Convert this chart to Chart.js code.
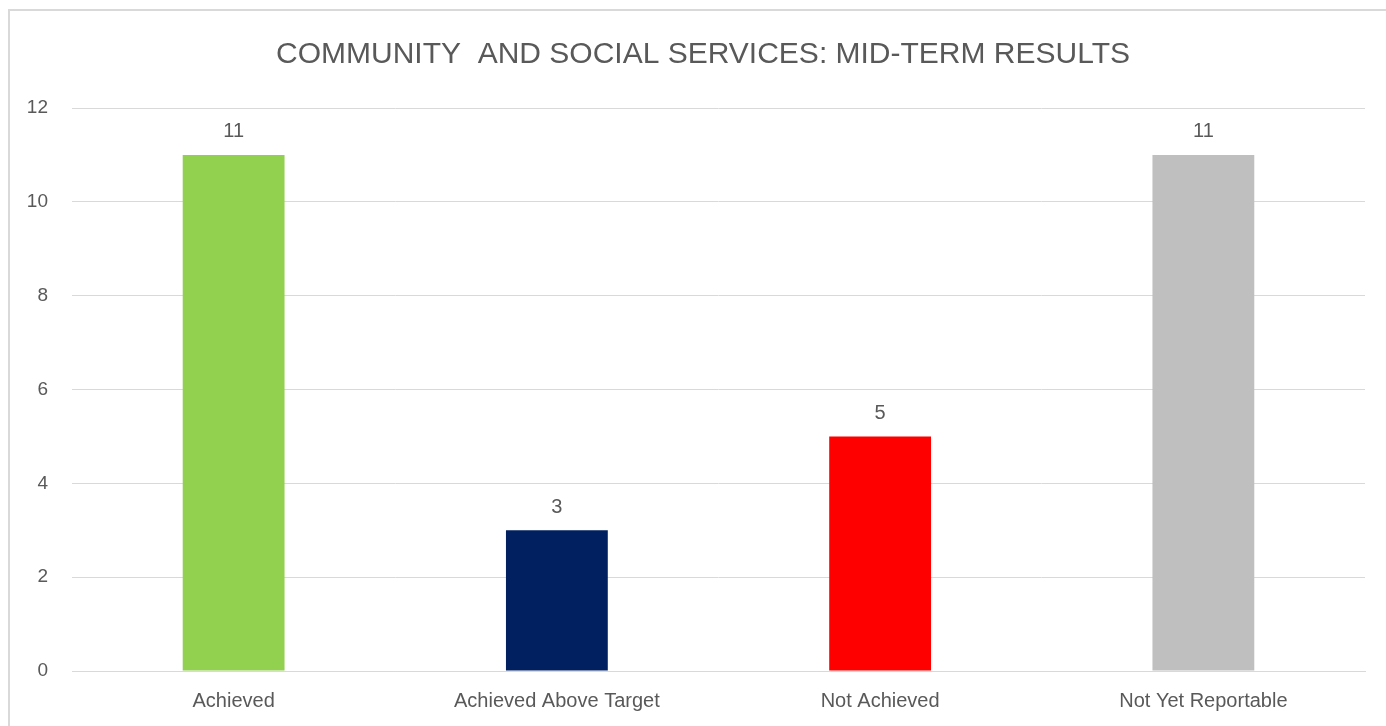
<!DOCTYPE html>
<html>
<head>
<meta charset="utf-8">
<title>Community and Social Services: Mid-Term Results</title>
<script src="https://cdn.jsdelivr.net/npm/chart.js@4"></script>
<style>
  html, body { margin: 0; padding: 0; background: #fff; overflow: hidden; }
  .frame {
    position: absolute; left: 8px; top: 9px;
    width: 1386px; height: 730px;
    border-left: 2px solid #d9d9d9; border-top: 2px solid #d9d9d9;
  }
  .frame canvas { display: block; }
</style>
</head>
<body>
<div class="frame"><canvas id="results" width="1386" height="730"></canvas></div>
<script>
const categories = ['Achieved', 'Achieved Above Target', 'Not Achieved', 'Not Yet Reportable'];
const counts = [11, 3, 5, 11];
const barColors = ['#92D050', '#002060', '#FF0000', '#BFBFBF'];
const yTicks = [0, 2, 4, 6, 8, 10, 12];
const chartTitle = 'COMMUNITY  AND SOCIAL SERVICES: MID-TERM RESULTS';

const textColor = '#595959';
const fontFamily = '"Liberation Sans", Arial, sans-serif';

// title centred on the whole canvas, not just the padded box
const centredTitle = {
  id: 'centredTitle',
  afterDraw(chart) {
    const ctx = chart.ctx;
    ctx.save();
    ctx.font = '30px ' + fontFamily;
    ctx.fillStyle = textColor;
    ctx.textAlign = 'center';
    ctx.textBaseline = 'alphabetic';
    ctx.fillText(chartTitle, chart.width / 2, 52);
    ctx.restore();
  }
};

// value above each bar
const barValues = {
  id: 'barValues',
  afterDatasetsDraw(chart) {
    const ctx = chart.ctx;
    const meta = chart.getDatasetMeta(0);
    ctx.save();
    ctx.font = '20px ' + fontFamily;
    ctx.fillStyle = textColor;
    ctx.textAlign = 'center';
    ctx.textBaseline = 'bottom';
    meta.data.forEach((bar, i) => {
      ctx.fillText(String(counts[i]), bar.x, bar.y - 13);
    });
    ctx.restore();
  }
};

new Chart(document.getElementById('results'), {
  type: 'bar',
  data: {
    labels: categories,
    datasets: [{
      data: counts,
      backgroundColor: barColors,
      borderWidth: 0,
      barPercentage: 0.63,
      categoryPercentage: 0.5
    }]
  },
  options: {
    responsive: false,
    animation: false,
    layout: { padding: { left: 0, right: 31, top: 97, bottom: 10 } },
    plugins: {
      legend: { display: false },
      tooltip: { enabled: false },
      title: { display: false }
    },
    scales: {
      x: {
        grid: { display: false, drawTicks: false },
        border: { color: '#d9d9d9', width: 1 },
        ticks: {
          color: textColor,
          font: { family: fontFamily, size: 20 },
          padding: 18
        }
      },
      y: {
        min: 0,
        max: 12,
        afterFit(scale) { scale.width = 62; },
        afterBuildTicks(scale) { scale.ticks = yTicks.map(v => ({ value: v })); },
        grid: { color: '#d9d9d9', lineWidth: 1, drawTicks: false },
        border: { display: false },
        ticks: {
          color: textColor,
          font: { family: fontFamily, size: 19 },
          padding: 24
        }
      }
    }
  },
  plugins: [barValues, centredTitle]
});
</script>
</body>
</html>
